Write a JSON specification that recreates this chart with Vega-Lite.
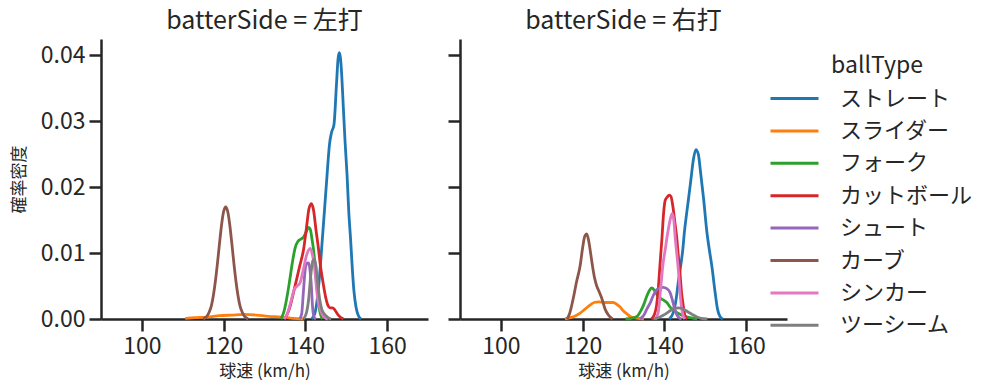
{
  "$schema": "https://vega.github.io/schema/vega-lite/v6.json",
  "padding": {"left": 10, "top": 9, "right": 5, "bottom": 5},
  "config": {
    "font": "Noto Sans CJK JP",
    "view": {"stroke": null},
    "concat": {"spacing": 18},
    "axis": {"grid": false, "domainColor": "#262626", "domainWidth": 2.5, "tickColor": "#262626", "tickWidth": 2.5, "tickSize": 12, "labelFontSize": 23, "labelColor": "#262626", "labelPadding": 4, "titleFontSize": 17, "titleFontWeight": "normal", "titleColor": "#262626", "titlePadding": 5},
    "axisY": {"titlePadding": 12},
    "title": {"fontSize": 25, "fontWeight": "normal", "color": "#262626", "offset": 5},
    "legend": {"orient": "none", "legendX": 680, "legendY": 16, "titleFontSize": 23, "titleFontWeight": "normal", "titleColor": "#262626", "labelFontSize": 22, "labelColor": "#262626", "symbolType": "M-2,0L2,0", "symbolSize": 576, "symbolStrokeWidth": 3, "labelOffset": 32, "rowPadding": 7.4, "titlePadding": 7, "titleAnchor": "middle", "padding": 0}
  },
  "datasets": {
    "kde": [
      {"batterSide":"左打","ballType":"ストレート","speed":141.5,"density":0},
      {"batterSide":"左打","ballType":"ストレート","speed":142.3,"density":0.0008},
      {"batterSide":"左打","ballType":"ストレート","speed":143.0,"density":0.0035},
      {"batterSide":"左打","ballType":"ストレート","speed":143.6,"density":0.0075},
      {"batterSide":"左打","ballType":"ストレート","speed":144.1,"density":0.0117},
      {"batterSide":"左打","ballType":"ストレート","speed":144.7,"density":0.0167},
      {"batterSide":"左打","ballType":"ストレート","speed":145.3,"density":0.0218},
      {"batterSide":"左打","ballType":"ストレート","speed":145.9,"density":0.0265},
      {"batterSide":"左打","ballType":"ストレート","speed":146.4,"density":0.0283},
      {"batterSide":"左打","ballType":"ストレート","speed":147.0,"density":0.0295},
      {"batterSide":"左打","ballType":"ストレート","speed":147.6,"density":0.0355},
      {"batterSide":"左打","ballType":"ストレート","speed":148.0,"density":0.0395},
      {"batterSide":"左打","ballType":"ストレート","speed":148.3,"density":0.0404},
      {"batterSide":"左打","ballType":"ストレート","speed":148.6,"density":0.0395},
      {"batterSide":"左打","ballType":"ストレート","speed":148.9,"density":0.0369},
      {"batterSide":"左打","ballType":"ストレート","speed":149.3,"density":0.0319},
      {"batterSide":"左打","ballType":"ストレート","speed":149.7,"density":0.0270},
      {"batterSide":"左打","ballType":"ストレート","speed":150.2,"density":0.0218},
      {"batterSide":"左打","ballType":"ストレート","speed":150.6,"density":0.0165},
      {"batterSide":"左打","ballType":"ストレート","speed":151.1,"density":0.0117},
      {"batterSide":"左打","ballType":"ストレート","speed":151.5,"density":0.0075},
      {"batterSide":"左打","ballType":"ストレート","speed":151.9,"density":0.0041},
      {"batterSide":"左打","ballType":"ストレート","speed":152.4,"density":0.0018},
      {"batterSide":"左打","ballType":"ストレート","speed":152.9,"density":0.0006},
      {"batterSide":"左打","ballType":"ストレート","speed":153.6,"density":0},
      {"batterSide":"左打","ballType":"スライダー","speed":110.6,"density":0.0001},
      {"batterSide":"左打","ballType":"スライダー","speed":113,"density":0.0002},
      {"batterSide":"左打","ballType":"スライダー","speed":116,"density":0.0003},
      {"batterSide":"左打","ballType":"スライダー","speed":119,"density":0.0005},
      {"batterSide":"左打","ballType":"スライダー","speed":122,"density":0.0006},
      {"batterSide":"左打","ballType":"スライダー","speed":125,"density":0.0007},
      {"batterSide":"左打","ballType":"スライダー","speed":128,"density":0.0006},
      {"batterSide":"左打","ballType":"スライダー","speed":131,"density":0.0004},
      {"batterSide":"左打","ballType":"スライダー","speed":134,"density":0.0003},
      {"batterSide":"左打","ballType":"スライダー","speed":137,"density":0.0001},
      {"batterSide":"左打","ballType":"スライダー","speed":139.5,"density":0},
      {"batterSide":"左打","ballType":"フォーク","speed":134.0,"density":0},
      {"batterSide":"左打","ballType":"フォーク","speed":134.7,"density":0.001},
      {"batterSide":"左打","ballType":"フォーク","speed":135.4,"density":0.003},
      {"batterSide":"左打","ballType":"フォーク","speed":136.1,"density":0.0056},
      {"batterSide":"左打","ballType":"フォーク","speed":136.8,"density":0.0085},
      {"batterSide":"左打","ballType":"フォーク","speed":137.5,"density":0.0108},
      {"batterSide":"左打","ballType":"フォーク","speed":138.2,"density":0.0118},
      {"batterSide":"左打","ballType":"フォーク","speed":138.9,"density":0.0121},
      {"batterSide":"左打","ballType":"フォーク","speed":139.5,"density":0.0124},
      {"batterSide":"左打","ballType":"フォーク","speed":140.2,"density":0.0132},
      {"batterSide":"左打","ballType":"フォーク","speed":140.8,"density":0.0139},
      {"batterSide":"左打","ballType":"フォーク","speed":141.2,"density":0.0136},
      {"batterSide":"左打","ballType":"フォーク","speed":141.6,"density":0.0122},
      {"batterSide":"左打","ballType":"フォーク","speed":142.0,"density":0.0105},
      {"batterSide":"左打","ballType":"フォーク","speed":142.4,"density":0.0080},
      {"batterSide":"左打","ballType":"フォーク","speed":142.8,"density":0.0050},
      {"batterSide":"左打","ballType":"フォーク","speed":143.3,"density":0.0020},
      {"batterSide":"左打","ballType":"フォーク","speed":143.8,"density":0.0005},
      {"batterSide":"左打","ballType":"フォーク","speed":144.2,"density":0},
      {"batterSide":"左打","ballType":"カットボール","speed":135.0,"density":0},
      {"batterSide":"左打","ballType":"カットボール","speed":135.6,"density":0.0008},
      {"batterSide":"左打","ballType":"カットボール","speed":136.1,"density":0.0016},
      {"batterSide":"左打","ballType":"カットボール","speed":136.9,"density":0.0035},
      {"batterSide":"左打","ballType":"カットボール","speed":137.7,"density":0.0056},
      {"batterSide":"左打","ballType":"カットボール","speed":138.6,"density":0.0080},
      {"batterSide":"左打","ballType":"カットボール","speed":139.6,"density":0.0107},
      {"batterSide":"左打","ballType":"カットボール","speed":140.3,"density":0.0140},
      {"batterSide":"左打","ballType":"カットボール","speed":140.9,"density":0.0168},
      {"batterSide":"左打","ballType":"カットボール","speed":141.5,"density":0.0175},
      {"batterSide":"左打","ballType":"カットボール","speed":142.0,"density":0.0165},
      {"batterSide":"左打","ballType":"カットボール","speed":142.6,"density":0.0135},
      {"batterSide":"左打","ballType":"カットボール","speed":143.2,"density":0.0107},
      {"batterSide":"左打","ballType":"カットボール","speed":143.7,"density":0.0080},
      {"batterSide":"左打","ballType":"カットボール","speed":144.3,"density":0.0056},
      {"batterSide":"左打","ballType":"カットボール","speed":144.9,"density":0.0035},
      {"batterSide":"左打","ballType":"カットボール","speed":145.5,"density":0.0021},
      {"batterSide":"左打","ballType":"カットボール","speed":146.0,"density":0.0017},
      {"batterSide":"左打","ballType":"カットボール","speed":146.6,"density":0.0017},
      {"batterSide":"左打","ballType":"カットボール","speed":147.2,"density":0.0014},
      {"batterSide":"左打","ballType":"カットボール","speed":147.8,"density":0.0008},
      {"batterSide":"左打","ballType":"カットボール","speed":148.5,"density":0.0003},
      {"batterSide":"左打","ballType":"カットボール","speed":149.3,"density":0},
      {"batterSide":"左打","ballType":"シュート","speed":138.6,"density":0},
      {"batterSide":"左打","ballType":"シュート","speed":139.1,"density":0.0008},
      {"batterSide":"左打","ballType":"シュート","speed":139.5,"density":0.0040},
      {"batterSide":"左打","ballType":"シュート","speed":139.95,"density":0.0075},
      {"batterSide":"左打","ballType":"シュート","speed":140.3,"density":0.0084},
      {"batterSide":"左打","ballType":"シュート","speed":140.7,"density":0.0085},
      {"batterSide":"左打","ballType":"シュート","speed":141.0,"density":0.0080},
      {"batterSide":"左打","ballType":"シュート","speed":141.4,"density":0.0056},
      {"batterSide":"左打","ballType":"シュート","speed":141.8,"density":0.0015},
      {"batterSide":"左打","ballType":"シュート","speed":142.2,"density":0.0002},
      {"batterSide":"左打","ballType":"シュート","speed":142.6,"density":0},
      {"batterSide":"左打","ballType":"カーブ","speed":115.0,"density":0},
      {"batterSide":"左打","ballType":"カーブ","speed":115.5,"density":0.0002},
      {"batterSide":"左打","ballType":"カーブ","speed":116.0,"density":0.0005},
      {"batterSide":"左打","ballType":"カーブ","speed":116.5,"density":0.0011},
      {"batterSide":"左打","ballType":"カーブ","speed":117.0,"density":0.0020},
      {"batterSide":"左打","ballType":"カーブ","speed":117.5,"density":0.0036},
      {"batterSide":"左打","ballType":"カーブ","speed":118.0,"density":0.0058},
      {"batterSide":"左打","ballType":"カーブ","speed":118.5,"density":0.0085},
      {"batterSide":"左打","ballType":"カーブ","speed":119.0,"density":0.0115},
      {"batterSide":"左打","ballType":"カーブ","speed":119.5,"density":0.0143},
      {"batterSide":"左打","ballType":"カーブ","speed":120.0,"density":0.0163},
      {"batterSide":"左打","ballType":"カーブ","speed":120.5,"density":0.0170},
      {"batterSide":"左打","ballType":"カーブ","speed":121.0,"density":0.0163},
      {"batterSide":"左打","ballType":"カーブ","speed":121.5,"density":0.0143},
      {"batterSide":"左打","ballType":"カーブ","speed":122.0,"density":0.0115},
      {"batterSide":"左打","ballType":"カーブ","speed":122.5,"density":0.0085},
      {"batterSide":"左打","ballType":"カーブ","speed":123.0,"density":0.0058},
      {"batterSide":"左打","ballType":"カーブ","speed":123.5,"density":0.0036},
      {"batterSide":"左打","ballType":"カーブ","speed":124.0,"density":0.0020},
      {"batterSide":"左打","ballType":"カーブ","speed":124.5,"density":0.0011},
      {"batterSide":"左打","ballType":"カーブ","speed":125.0,"density":0.0005},
      {"batterSide":"左打","ballType":"カーブ","speed":125.5,"density":0.0002},
      {"batterSide":"左打","ballType":"カーブ","speed":126.0,"density":0},
      {"batterSide":"左打","ballType":"シンカー","speed":134.8,"density":0},
      {"batterSide":"左打","ballType":"シンカー","speed":135.6,"density":0.0008},
      {"batterSide":"左打","ballType":"シンカー","speed":136.4,"density":0.0025},
      {"batterSide":"左打","ballType":"シンカー","speed":137.3,"density":0.0045},
      {"batterSide":"左打","ballType":"シンカー","speed":138.0,"density":0.0050},
      {"batterSide":"左打","ballType":"シンカー","speed":138.7,"density":0.0055},
      {"batterSide":"左打","ballType":"シンカー","speed":139.5,"density":0.0075},
      {"batterSide":"左打","ballType":"シンカー","speed":140.3,"density":0.0097},
      {"batterSide":"左打","ballType":"シンカー","speed":141.2,"density":0.0107},
      {"batterSide":"左打","ballType":"シンカー","speed":141.7,"density":0.0098},
      {"batterSide":"左打","ballType":"シンカー","speed":142.2,"density":0.0080},
      {"batterSide":"左打","ballType":"シンカー","speed":142.6,"density":0.0055},
      {"batterSide":"左打","ballType":"シンカー","speed":143.0,"density":0.0031},
      {"batterSide":"左打","ballType":"シンカー","speed":143.6,"density":0.0015},
      {"batterSide":"左打","ballType":"シンカー","speed":144.2,"density":0.0006},
      {"batterSide":"左打","ballType":"シンカー","speed":145.0,"density":0.0001},
      {"batterSide":"左打","ballType":"シンカー","speed":145.5,"density":0},
      {"batterSide":"左打","ballType":"ツーシーム","speed":139.5,"density":0},
      {"batterSide":"左打","ballType":"ツーシーム","speed":140.2,"density":0.0008},
      {"batterSide":"左打","ballType":"ツーシーム","speed":140.8,"density":0.0030},
      {"batterSide":"左打","ballType":"ツーシーム","speed":141.3,"density":0.0065},
      {"batterSide":"左打","ballType":"ツーシーム","speed":141.8,"density":0.0088},
      {"batterSide":"左打","ballType":"ツーシーム","speed":142.2,"density":0.0091},
      {"batterSide":"左打","ballType":"ツーシーム","speed":142.6,"density":0.0080},
      {"batterSide":"左打","ballType":"ツーシーム","speed":143.0,"density":0.0055},
      {"batterSide":"左打","ballType":"ツーシーム","speed":143.5,"density":0.0030},
      {"batterSide":"左打","ballType":"ツーシーム","speed":144.0,"density":0.0015},
      {"batterSide":"左打","ballType":"ツーシーム","speed":144.6,"density":0.0008},
      {"batterSide":"左打","ballType":"ツーシーム","speed":145.2,"density":0.0004},
      {"batterSide":"左打","ballType":"ツーシーム","speed":145.8,"density":0.0001},
      {"batterSide":"左打","ballType":"ツーシーム","speed":146.3,"density":0},
      {"batterSide":"右打","ballType":"ストレート","speed":141.2,"density":0},
      {"batterSide":"右打","ballType":"ストレート","speed":142.2,"density":0.001},
      {"batterSide":"右打","ballType":"ストレート","speed":142.9,"density":0.0031},
      {"batterSide":"右打","ballType":"ストレート","speed":143.4,"density":0.0056},
      {"batterSide":"右打","ballType":"ストレート","speed":144.0,"density":0.0081},
      {"batterSide":"右打","ballType":"ストレート","speed":144.5,"density":0.0105},
      {"batterSide":"右打","ballType":"ストレート","speed":144.9,"density":0.0132},
      {"batterSide":"右打","ballType":"ストレート","speed":145.4,"density":0.0158},
      {"batterSide":"右打","ballType":"ストレート","speed":145.9,"density":0.0182},
      {"batterSide":"右打","ballType":"ストレート","speed":146.5,"density":0.0212},
      {"batterSide":"右打","ballType":"ストレート","speed":147.1,"density":0.0242},
      {"batterSide":"右打","ballType":"ストレート","speed":147.7,"density":0.0257},
      {"batterSide":"右打","ballType":"ストレート","speed":148.3,"density":0.0250},
      {"batterSide":"右打","ballType":"ストレート","speed":148.9,"density":0.0220},
      {"batterSide":"右打","ballType":"ストレート","speed":149.6,"density":0.0182},
      {"batterSide":"右打","ballType":"ストレート","speed":150.4,"density":0.0132},
      {"batterSide":"右打","ballType":"ストレート","speed":151.0,"density":0.0105},
      {"batterSide":"右打","ballType":"ストレート","speed":151.6,"density":0.0081},
      {"batterSide":"右打","ballType":"ストレート","speed":152.4,"density":0.0041},
      {"batterSide":"右打","ballType":"ストレート","speed":153.0,"density":0.0015},
      {"batterSide":"右打","ballType":"ストレート","speed":153.6,"density":0.0004},
      {"batterSide":"右打","ballType":"ストレート","speed":154.3,"density":0},
      {"batterSide":"右打","ballType":"スライダー","speed":115.7,"density":0},
      {"batterSide":"右打","ballType":"スライダー","speed":117.0,"density":0.0002},
      {"batterSide":"右打","ballType":"スライダー","speed":118.3,"density":0.0005},
      {"batterSide":"右打","ballType":"スライダー","speed":119.4,"density":0.0009},
      {"batterSide":"右打","ballType":"スライダー","speed":120.6,"density":0.0015},
      {"batterSide":"右打","ballType":"スライダー","speed":121.8,"density":0.0021},
      {"batterSide":"右打","ballType":"スライダー","speed":122.8,"density":0.0025},
      {"batterSide":"右打","ballType":"スライダー","speed":124.0,"density":0.0026},
      {"batterSide":"右打","ballType":"スライダー","speed":125.2,"density":0.0025},
      {"batterSide":"右打","ballType":"スライダー","speed":126.4,"density":0.0025},
      {"batterSide":"右打","ballType":"スライダー","speed":127.5,"density":0.0025},
      {"batterSide":"右打","ballType":"スライダー","speed":128.4,"density":0.0022},
      {"batterSide":"右打","ballType":"スライダー","speed":129.2,"density":0.0018},
      {"batterSide":"右打","ballType":"スライダー","speed":130.0,"density":0.0012},
      {"batterSide":"右打","ballType":"スライダー","speed":130.8,"density":0.0008},
      {"batterSide":"右打","ballType":"スライダー","speed":131.6,"density":0.0004},
      {"batterSide":"右打","ballType":"スライダー","speed":132.4,"density":0.0002},
      {"batterSide":"右打","ballType":"スライダー","speed":133.5,"density":0.0001},
      {"batterSide":"右打","ballType":"スライダー","speed":135.0,"density":0},
      {"batterSide":"右打","ballType":"フォーク","speed":130.5,"density":0},
      {"batterSide":"右打","ballType":"フォーク","speed":132.0,"density":0.0001},
      {"batterSide":"右打","ballType":"フォーク","speed":133.3,"density":0.0004},
      {"batterSide":"右打","ballType":"フォーク","speed":134.2,"density":0.0012},
      {"batterSide":"右打","ballType":"フォーク","speed":134.9,"density":0.0021},
      {"batterSide":"右打","ballType":"フォーク","speed":135.6,"density":0.0033},
      {"batterSide":"右打","ballType":"フォーク","speed":136.3,"density":0.0043},
      {"batterSide":"右打","ballType":"フォーク","speed":136.9,"density":0.0047},
      {"batterSide":"右打","ballType":"フォーク","speed":137.5,"density":0.0044},
      {"batterSide":"右打","ballType":"フォーク","speed":138.2,"density":0.0037},
      {"batterSide":"右打","ballType":"フォーク","speed":138.9,"density":0.0032},
      {"batterSide":"右打","ballType":"フォーク","speed":139.7,"density":0.0029},
      {"batterSide":"右打","ballType":"フォーク","speed":140.6,"density":0.0025},
      {"batterSide":"右打","ballType":"フォーク","speed":141.4,"density":0.0018},
      {"batterSide":"右打","ballType":"フォーク","speed":142.2,"density":0.0014},
      {"batterSide":"右打","ballType":"フォーク","speed":143.0,"density":0.0010},
      {"batterSide":"右打","ballType":"フォーク","speed":143.9,"density":0.0007},
      {"batterSide":"右打","ballType":"フォーク","speed":145.0,"density":0.0004},
      {"batterSide":"右打","ballType":"フォーク","speed":146.3,"density":0.0002},
      {"batterSide":"右打","ballType":"フォーク","speed":148.0,"density":0},
      {"batterSide":"右打","ballType":"カットボール","speed":136.8,"density":0},
      {"batterSide":"右打","ballType":"カットボール","speed":137.5,"density":0.0006},
      {"batterSide":"右打","ballType":"カットボール","speed":138.1,"density":0.0021},
      {"batterSide":"右打","ballType":"カットボール","speed":138.5,"density":0.0045},
      {"batterSide":"右打","ballType":"カットボール","speed":138.8,"density":0.0071},
      {"batterSide":"右打","ballType":"カットボール","speed":139.1,"density":0.0097},
      {"batterSide":"右打","ballType":"カットボール","speed":139.4,"density":0.0122},
      {"batterSide":"右打","ballType":"カットボール","speed":139.8,"density":0.0160},
      {"batterSide":"右打","ballType":"カットボール","speed":140.2,"density":0.0180},
      {"batterSide":"右打","ballType":"カットボール","speed":140.7,"density":0.0185},
      {"batterSide":"右打","ballType":"カットボール","speed":141.2,"density":0.0188},
      {"batterSide":"右打","ballType":"カットボール","speed":141.6,"density":0.0186},
      {"batterSide":"右打","ballType":"カットボール","speed":142.1,"density":0.0170},
      {"batterSide":"右打","ballType":"カットボール","speed":142.6,"density":0.0145},
      {"batterSide":"右打","ballType":"カットボール","speed":143.0,"density":0.0125},
      {"batterSide":"右打","ballType":"カットボール","speed":143.4,"density":0.0097},
      {"batterSide":"右打","ballType":"カットボール","speed":143.8,"density":0.0071},
      {"batterSide":"右打","ballType":"カットボール","speed":144.2,"density":0.0040},
      {"batterSide":"右打","ballType":"カットボール","speed":144.6,"density":0.0021},
      {"batterSide":"右打","ballType":"カットボール","speed":145.0,"density":0.0006},
      {"batterSide":"右打","ballType":"カットボール","speed":145.6,"density":0},
      {"batterSide":"右打","ballType":"シュート","speed":134.0,"density":0},
      {"batterSide":"右打","ballType":"シュート","speed":135.0,"density":0.0006},
      {"batterSide":"右打","ballType":"シュート","speed":135.7,"density":0.0015},
      {"batterSide":"右打","ballType":"シュート","speed":136.5,"density":0.0024},
      {"batterSide":"右打","ballType":"シュート","speed":137.3,"density":0.0036},
      {"batterSide":"右打","ballType":"シュート","speed":138.1,"density":0.0044},
      {"batterSide":"右打","ballType":"シュート","speed":138.9,"density":0.0047},
      {"batterSide":"右打","ballType":"シュート","speed":139.7,"density":0.0048},
      {"batterSide":"右打","ballType":"シュート","speed":140.6,"density":0.0046},
      {"batterSide":"右打","ballType":"シュート","speed":141.4,"density":0.0040},
      {"batterSide":"右打","ballType":"シュート","speed":141.9,"density":0.0030},
      {"batterSide":"右打","ballType":"シュート","speed":142.4,"density":0.0018},
      {"batterSide":"右打","ballType":"シュート","speed":143.0,"density":0.0007},
      {"batterSide":"右打","ballType":"シュート","speed":143.6,"density":0.0002},
      {"batterSide":"右打","ballType":"シュート","speed":144.2,"density":0},
      {"batterSide":"右打","ballType":"カーブ","speed":116.2,"density":0},
      {"batterSide":"右打","ballType":"カーブ","speed":116.8,"density":0.0008},
      {"batterSide":"右打","ballType":"カーブ","speed":117.7,"density":0.0031},
      {"batterSide":"右打","ballType":"カーブ","speed":118.5,"density":0.0056},
      {"batterSide":"右打","ballType":"カーブ","speed":119.4,"density":0.0081},
      {"batterSide":"右打","ballType":"カーブ","speed":120.0,"density":0.0108},
      {"batterSide":"右打","ballType":"カーブ","speed":120.5,"density":0.0125},
      {"batterSide":"右打","ballType":"カーブ","speed":121.0,"density":0.0129},
      {"batterSide":"右打","ballType":"カーブ","speed":121.5,"density":0.0118},
      {"batterSide":"右打","ballType":"カーブ","speed":122.0,"density":0.0098},
      {"batterSide":"右打","ballType":"カーブ","speed":122.4,"density":0.0081},
      {"batterSide":"右打","ballType":"カーブ","speed":122.9,"density":0.0063},
      {"batterSide":"右打","ballType":"カーブ","speed":123.4,"density":0.0051},
      {"batterSide":"右打","ballType":"カーブ","speed":124.0,"density":0.0042},
      {"batterSide":"右打","ballType":"カーブ","speed":124.7,"density":0.0031},
      {"batterSide":"右打","ballType":"カーブ","speed":125.5,"density":0.0015},
      {"batterSide":"右打","ballType":"カーブ","speed":126.3,"density":0.0006},
      {"batterSide":"右打","ballType":"カーブ","speed":127.3,"density":0},
      {"batterSide":"右打","ballType":"シンカー","speed":137.8,"density":0},
      {"batterSide":"右打","ballType":"シンカー","speed":138.5,"density":0.0010},
      {"batterSide":"右打","ballType":"シンカー","speed":139.1,"density":0.0046},
      {"batterSide":"右打","ballType":"シンカー","speed":139.6,"density":0.0080},
      {"batterSide":"右打","ballType":"シンカー","speed":140.2,"density":0.0105},
      {"batterSide":"右打","ballType":"シンカー","speed":140.8,"density":0.0130},
      {"batterSide":"右打","ballType":"シンカー","speed":141.4,"density":0.0150},
      {"batterSide":"右打","ballType":"シンカー","speed":141.9,"density":0.0160},
      {"batterSide":"右打","ballType":"シンカー","speed":142.3,"density":0.0150},
      {"batterSide":"右打","ballType":"シンカー","speed":142.7,"density":0.0120},
      {"batterSide":"右打","ballType":"シンカー","speed":143.1,"density":0.0095},
      {"batterSide":"右打","ballType":"シンカー","speed":143.5,"density":0.0068},
      {"batterSide":"右打","ballType":"シンカー","speed":143.9,"density":0.0035},
      {"batterSide":"右打","ballType":"シンカー","speed":144.4,"density":0.0010},
      {"batterSide":"右打","ballType":"シンカー","speed":145.0,"density":0},
      {"batterSide":"右打","ballType":"ツーシーム","speed":137.3,"density":0},
      {"batterSide":"右打","ballType":"ツーシーム","speed":138.5,"density":0.0002},
      {"batterSide":"右打","ballType":"ツーシーム","speed":139.5,"density":0.0005},
      {"batterSide":"右打","ballType":"ツーシーム","speed":140.6,"density":0.0009},
      {"batterSide":"右打","ballType":"ツーシーム","speed":141.5,"density":0.0013},
      {"batterSide":"右打","ballType":"ツーシーム","speed":142.5,"density":0.0016},
      {"batterSide":"右打","ballType":"ツーシーム","speed":143.4,"density":0.0017},
      {"batterSide":"右打","ballType":"ツーシーム","speed":144.3,"density":0.0016},
      {"batterSide":"右打","ballType":"ツーシーム","speed":145.2,"density":0.0013},
      {"batterSide":"右打","ballType":"ツーシーム","speed":146.2,"density":0.0009},
      {"batterSide":"右打","ballType":"ツーシーム","speed":147.1,"density":0.0006},
      {"batterSide":"右打","ballType":"ツーシーム","speed":148.0,"density":0.0003},
      {"batterSide":"右打","ballType":"ツーシーム","speed":149.0,"density":0.0001},
      {"batterSide":"右打","ballType":"ツーシーム","speed":150.5,"density":0}
    ]
  },
  "data": {"name": "kde"},
  "hconcat": [
    {
      "title": "batterSide = 左打",
      "width": 327,
      "height": 280,
      "transform": [{"filter": "datum.batterSide === '左打'"}],
      "mark": {"type": "line", "strokeWidth": 2.8, "interpolate": "monotone"},
      "encoding": {
        "x": {"field": "speed", "type": "quantitative", "scale": {"domain": [90, 170], "nice": false, "zero": false}, "axis": {"values": [100, 120, 140, 160], "title": "球速 (km/h)"}},
        "y": {"field": "density", "type": "quantitative", "scale": {"domain": [0, 0.04247], "nice": false}, "axis": {"values": [0, 0.01, 0.02, 0.03, 0.04], "format": ".2f", "title": "確率密度"}},
        "color": {"field": "ballType", "type": "nominal", "scale": {"domain": ["ストレート", "スライダー", "フォーク", "カットボール", "シュート", "カーブ", "シンカー", "ツーシーム"], "range": ["#1f77b4", "#ff7f0e", "#2ca02c", "#d62728", "#9467bd", "#8c564b", "#e377c2", "#7f7f7f"]}, "legend": {"title": "ballType"}}
      }
    },
    {
      "title": "batterSide = 右打",
      "width": 327,
      "height": 280,
      "transform": [{"filter": "datum.batterSide === '右打'"}],
      "mark": {"type": "line", "strokeWidth": 2.8, "interpolate": "monotone"},
      "encoding": {
        "x": {"field": "speed", "type": "quantitative", "scale": {"domain": [90, 170], "nice": false, "zero": false}, "axis": {"values": [100, 120, 140, 160], "title": "球速 (km/h)"}},
        "y": {"field": "density", "type": "quantitative", "scale": {"domain": [0, 0.04247], "nice": false}, "axis": {"values": [0, 0.01, 0.02, 0.03, 0.04], "labels": false, "title": null}},
        "color": {"field": "ballType", "type": "nominal", "scale": {"domain": ["ストレート", "スライダー", "フォーク", "カットボール", "シュート", "カーブ", "シンカー", "ツーシーム"], "range": ["#1f77b4", "#ff7f0e", "#2ca02c", "#d62728", "#9467bd", "#8c564b", "#e377c2", "#7f7f7f"]}, "legend": {"title": "ballType"}}
      }
    }
  ]
}
